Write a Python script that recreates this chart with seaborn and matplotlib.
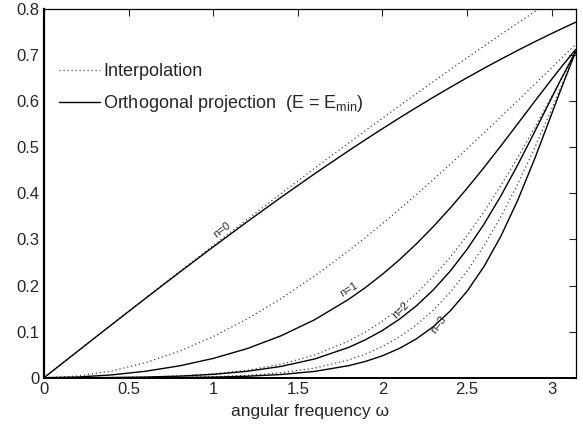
import matplotlib
matplotlib.use("Agg")
import matplotlib.pyplot as plt
import numpy as np
import pandas as pd
import seaborn as sns
from matplotlib.lines import Line2D

# angular frequency grid (0 .. pi), denser where the curves bend
omega = [0.0, 0.2, 0.4, 0.6, 0.8, 1.0, 1.2, 1.4, 1.6, 1.8, 1.9, 2.0, 2.1,
         2.2, 2.3, 2.4, 2.5, 2.6, 2.7, 2.8, 2.9, 3.0, 3.05, 3.1416]

# orthogonal projection error E_min, degree n = 0..3
proj_n0 = [0, 0.0577, 0.1152, 0.1722, 0.2285, 0.2839, 0.3382, 0.3912, 0.4427,
           0.4924, 0.5166, 0.5403, 0.5635, 0.5862, 0.6083, 0.6299, 0.6509,
           0.6713, 0.6911, 0.7103, 0.7289, 0.7468, 0.7556, 0.7712]
proj_n1 = [0, 0.0015, 0.0061, 0.0140, 0.0257, 0.0418, 0.0631, 0.0908, 0.1259,
           0.1700, 0.1958, 0.2244, 0.2558, 0.2902, 0.3276, 0.3678, 0.4108,
           0.4560, 0.5030, 0.5512, 0.5996, 0.6474, 0.6708, 0.7122]
proj_n2 = [0, 0.0000, 0.0004, 0.0014, 0.0034, 0.0073, 0.0139, 0.0244, 0.0407,
           0.0657, 0.0824, 0.1025, 0.1268, 0.1558, 0.1903, 0.2310, 0.2785,
           0.3330, 0.3945, 0.4620, 0.5338, 0.6073, 0.6436, 0.7076]
proj_n3 = [0, 0.0000, 0.0000, 0.0001, 0.0005, 0.0013, 0.0032, 0.0069, 0.0137,
           0.0261, 0.0354, 0.0476, 0.0635, 0.0841, 0.1106, 0.1445, 0.1875,
           0.2411, 0.3070, 0.3854, 0.4752, 0.5720, 0.6209, 0.7072]

# interpolation error, degree n = 0..3
interp_n0 = [0, 0.0577, 0.1154, 0.1728, 0.2300, 0.2869, 0.3433, 0.3992, 0.4545,
             0.5092, 0.5362, 0.5631, 0.5897, 0.6161, 0.6423, 0.6683, 0.6940,
             0.7195, 0.7446, 0.7696, 0.7942, 0.8185, 0.8306, 0.8525]
interp_n1 = [0, 0.0036, 0.0146, 0.0326, 0.0576, 0.0893, 0.1274, 0.1714, 0.2209,
             0.2754, 0.3044, 0.3344, 0.3653, 0.3971, 0.4297, 0.4630, 0.4969,
             0.5313, 0.5662, 0.6014, 0.6369, 0.6725, 0.6903, 0.7230]
interp_n2 = [0, 0.0000, 0.0004, 0.0014, 0.0038, 0.0083, 0.0162, 0.0291, 0.0492,
             0.0795, 0.0992, 0.1227, 0.1503, 0.1824, 0.2192, 0.2611, 0.3080,
             0.3600, 0.4169, 0.4779, 0.5426, 0.6100, 0.6444, 0.7080]
interp_n3 = [0, 0.0000, 0.0000, 0.0002, 0.0008, 0.0022, 0.0051, 0.0107, 0.0208,
             0.0384, 0.0513, 0.0677, 0.0884, 0.1143, 0.1463, 0.1851, 0.2316,
             0.2863, 0.3494, 0.4205, 0.4989, 0.5829, 0.6263, 0.7072]

x_ticks = [0, 0.5, 1, 1.5, 2, 2.5, 3]
x_ticklabels = ["0", "0.5", "1", "1.5", "2", "2.5", "3"]
y_ticks = [0, 0.1, 0.2, 0.3, 0.4, 0.5, 0.6, 0.7, 0.8]
y_ticklabels = ["0", "0.1", "0.2", "0.3", "0.4", "0.5", "0.6", "0.7", "0.8"]

# curve labels: text, omega, value, rotation
curve_labels = [("n=0", 1.05, 0.320, 37),
                ("n=1", 1.80, 0.192, 31),
                ("n=2", 2.11, 0.146, 45),
                ("n=3", 2.33, 0.116, 53)]

proj = {0: proj_n0, 1: proj_n1, 2: proj_n2, 3: proj_n3}
interp = {0: interp_n0, 1: interp_n1, 2: interp_n2, 3: interp_n3}

rows = []
for n in range(4):
    for w, e in zip(omega, interp[n]):
        rows.append({"omega": w, "err": e, "n": n, "method": "interp"})
    for w, e in zip(omega, proj[n]):
        rows.append({"omega": w, "err": e, "n": n, "method": "proj"})
df = pd.DataFrame(rows)

sns.set_style("white")
plt.rcParams["font.family"] = ["Liberation Sans", "DejaVu Sans"]
plt.rcParams["mathtext.fontset"] = "custom"
plt.rcParams["mathtext.rm"] = "Liberation Sans"
plt.rcParams["mathtext.default"] = "regular"

dot_style = (0, (1, 2.2))
dot_color = "#444444"

fig = plt.figure(figsize=(5.83, 4.33), dpi=100)
ax = fig.add_axes([0.0755, 0.1277, 0.9118, 0.8515])

for n in range(4):
    sub = df[(df["n"] == n) & (df["method"] == "interp")]
    sns.lineplot(data=sub, x="omega", y="err", ax=ax, color=dot_color,
                 linestyle=dot_style, linewidth=0.9, estimator=None,
                 sort=False, legend=False)
    sub = df[(df["n"] == n) & (df["method"] == "proj")]
    sns.lineplot(data=sub, x="omega", y="err", ax=ax, color="black",
                 linewidth=1.0, estimator=None, sort=False, legend=False)

for txt, w, e, rot in curve_labels:
    ax.text(w, e, txt, fontsize=8, rotation=rot, ha="center", va="center",
            rotation_mode="anchor")

ax.set_xlim(0, np.pi)
ax.set_ylim(0, 0.8)
ax.set_xticks(x_ticks)
ax.set_xticklabels(x_ticklabels)
ax.set_yticks(y_ticks)
ax.set_yticklabels(y_ticklabels)
ax.tick_params(direction="in", top=True, right=True, length=5, width=0.8,
               labelsize=12, pad=3)
for side in ax.spines.values():
    side.set_color("black")
    side.set_linewidth(0.9)
ax.spines["left"].set_linewidth(1.6)
ax.spines["bottom"].set_linewidth(1.4)
ax.set_xlabel("angular frequency ω", fontsize=12.5, labelpad=5)
ax.set_ylabel("")

handles = [Line2D([], [], color=dot_color, linestyle=dot_style, linewidth=0.9),
           Line2D([], [], color="black", linewidth=1.0)]
labels = ["Interpolation", r"Orthogonal projection  (E = E$_{\mathrm{min}}$)"]
ax.legend(handles, labels, loc="upper left", bbox_to_anchor=(0.028, 0.854),
          frameon=False, fontsize=13, handlelength=2.3, handletextpad=0.15,
          labelspacing=0.72, borderpad=0, borderaxespad=0)

fig.savefig("out.png", dpi=100)
